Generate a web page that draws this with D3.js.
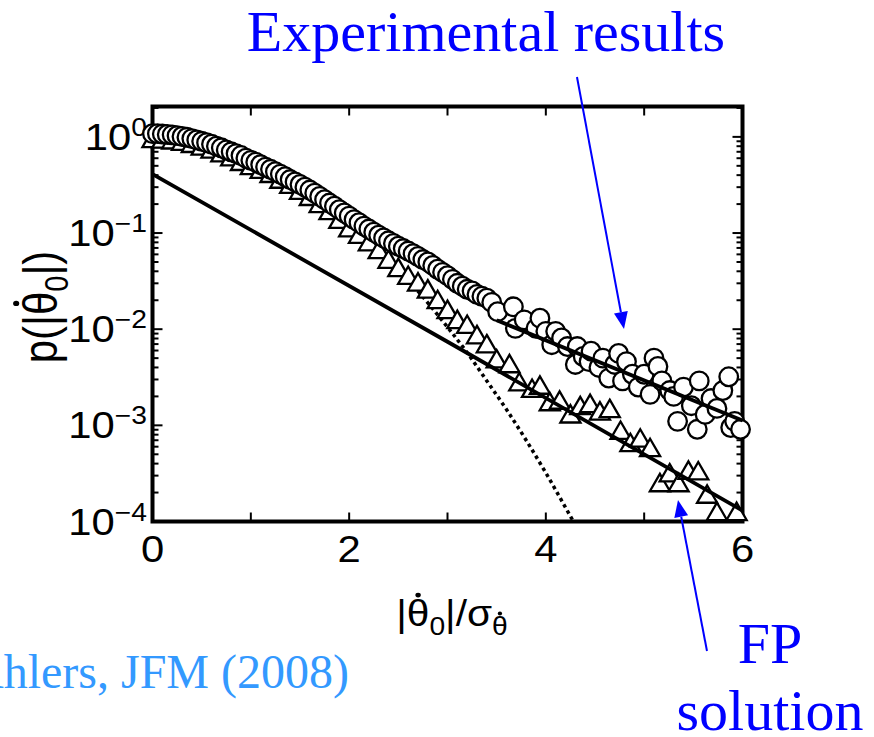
<!DOCTYPE html>
<html>
<head>
<meta charset="utf-8">
<script src="https://cdn.jsdelivr.net/npm/d3@7"></script>
<style>
  body { margin: 0; background: #fff; }
  svg { display: block; }
</style>
</head>
<body>
<svg id="chart" width="874" height="737"></svg>
<script>
// ---- measured PDF of |theta_dot_0| / sigma (open circles) ----
const circleX = [
  0.00,0.05,0.10,0.15,0.20,0.25,0.30,0.35,0.40,0.45,0.50,0.55,0.60,0.65,0.70,0.75,0.80,0.85,0.90,0.95,
  1.00,1.05,1.10,1.15,1.20,1.25,1.30,1.35,1.40,1.45,1.50,1.55,1.60,1.65,1.70,1.75,1.80,1.85,1.90,1.95,
  2.00,2.05,2.10,2.15,2.20,2.25,2.30,2.35,2.40,2.45,2.50,2.55,2.60,2.65,2.70,2.75,2.80,2.85,2.90,2.95,
  3.00,3.05,3.10,3.15,3.20,3.25,3.30,3.35,3.40,3.45,
  3.51,3.67,3.69,3.78,3.90,3.94,4.00,4.06,4.10,4.16,4.22,4.30,4.32,4.38,4.44,4.46,4.54,4.58,4.64,4.70,
  4.74,4.78,4.82,4.88,4.94,5.00,5.06,5.10,5.14,5.18,5.26,5.30,5.34,5.40,5.48,5.54,5.56,5.62,5.68,5.74,
  5.80,5.86,5.88,5.92,5.98
];
const circleY = [
  1.08,1.08,1.07,1.06,1.05,1.03,1.01,0.99,0.96,0.93,0.90,0.87,0.84,0.80,0.77,0.73,0.70,0.67,0.64,0.60,
  0.57,0.545,0.515,0.485,0.46,0.435,0.41,0.385,0.36,0.34,0.32,0.30,0.28,0.26,0.24,0.222,0.205,0.19,0.175,0.162,
  0.150,0.138,0.128,0.118,0.110,0.102,0.095,0.089,0.083,0.078,0.073,0.069,0.065,0.061,0.057,0.053,0.050,0.046,0.042,0.039,
  0.036,0.033,0.030,0.028,0.026,0.025,0.023,0.022,0.021,0.019,
  0.0152,0.0171,0.0102,0.0125,0.0102,0.0130,0.0095,0.0069,0.0095,0.0081,0.0066,0.0043,0.0066,0.0052,0.0046,0.0059,0.0040,0.0050,0.0031,0.0043,
  0.0056,0.0029,0.0046,0.0034,0.0025,0.0034,0.0021,0.0050,0.0041,0.0029,0.0023,0.0020,0.0011,0.0025,0.0016,0.00091,0.0029,0.0013,0.0019,0.0015,
  0.0023,0.0032,0.00095,0.0011,0.00091
];

// ---- PDF from the Fokker-Planck solution (open triangles) ----
const triX = [
  0.0,0.1,0.2,0.3,0.4,0.5,0.6,0.7,0.8,0.9,1.0,1.1,1.2,1.3,1.4,1.5,1.6,1.7,1.8,1.9,
  2.0,2.1,2.2,2.3,2.4,2.5,2.6,2.7,2.8,2.9,3.0,3.1,3.2,3.3,3.4,3.5,
  3.63,3.73,3.86,3.94,4.04,4.14,4.25,4.35,4.45,4.55,4.65,4.76,4.86,4.96,5.06,
  5.16,5.26,5.35,5.45,5.55,5.64,5.74,5.94
];
const triY = [
  0.90,0.89,0.87,0.84,0.80,0.75,0.70,0.64,0.58,0.52,0.47,0.43,0.39,0.34,0.30,0.26,0.225,0.19,0.16,0.13,
  0.106,0.091,0.076,0.063,0.050,0.041,0.034,0.029,0.0245,0.019,0.015,0.0118,0.0105,0.0082,0.0066,0.0046,
  0.0041,0.00265,0.00227,0.00245,0.00165,0.00171,0.00123,0.00150,0.00158,0.00132,0.00140,0.00083,0.00062,0.00069,0.00055,
  0.000237,0.00030,0.000237,0.00032,0.000315,0.00018,0.000119,0.000119
];

// ---- reference curves ----
const tailFitUpper = [[3.5, 0.0124], [6.0, 0.00112]];
const tailFitLower = [[0.0, 0.41], [3.0, 0.0074], [6.0, 0.00013]];
const gaussianCurve = [
  [0.0,0.94],[0.5,0.83],[1.0,0.57],[1.5,0.31],[2.0,0.128],[2.5,0.042],[2.8,0.0188],
  [3.0,0.0105],[3.2,0.0057],[3.4,0.0029],[3.6,0.00146],[3.8,0.0007],
  [4.0,0.00032],[4.2,0.00014],[4.28,0.0001]
];

// ---- axes ----
const xTickValues = [0, 1, 2, 3, 4, 5, 6];
const xTickLabels = ["0", "2", "4", "6"];
const xLabelValues = [0, 2, 4, 6];
const yDecadeExponents = [0, -1, -2, -3, -4];
const yExponentLabels = ["0", "\u22121", "\u22122", "\u22123", "\u22124"];

const svg = d3.select("#chart");
const plot = { left: 152.5, right: 742.5, top: 106.5, bottom: 521.5 };

const x = d3.scaleLinear().domain([0, 6]).range([plot.left, plot.right]);
const y = d3.scaleLog().domain([1e-4, 2.07]).range([plot.bottom, plot.top]);

const sansFont = "'Liberation Sans', Arial, Helvetica, sans-serif";
const serifFont = "'Liberation Serif', 'Times New Roman', serif";
const stretchX = 1.13;

// frame
svg.append("rect")
  .attr("x", plot.left).attr("y", plot.top)
  .attr("width", plot.right - plot.left).attr("height", plot.bottom - plot.top)
  .attr("fill", "none").attr("stroke", "#000").attr("stroke-width", 4);

// x ticks (bottom and top, pointing inward)
const tickG = svg.append("g").attr("stroke", "#000").attr("stroke-width", 2);
xTickValues.forEach(v => {
  tickG.append("line").attr("x1", x(v)).attr("x2", x(v))
    .attr("y1", plot.bottom).attr("y2", plot.bottom - 9);
  tickG.append("line").attr("x1", x(v)).attr("x2", x(v))
    .attr("y1", plot.top).attr("y2", plot.top + 9);
});

// y ticks (left and right), decades long, 2..9 short
const yMinor = [];
yDecadeExponents.forEach(e => {
  for (let k = 2; k <= 9; k++) {
    const v = k * Math.pow(10, e);
    if (v < y.domain()[1]) yMinor.push(v);
  }
});
yDecadeExponents.forEach(e => {
  const yy = y(Math.pow(10, e));
  tickG.append("line").attr("x1", plot.left).attr("x2", plot.left + 10).attr("y1", yy).attr("y2", yy);
  tickG.append("line").attr("x1", plot.right).attr("x2", plot.right - 10).attr("y1", yy).attr("y2", yy);
});
yMinor.forEach(v => {
  const yy = y(v);
  tickG.append("line").attr("x1", plot.left).attr("x2", plot.left + 6).attr("y1", yy).attr("y2", yy);
  tickG.append("line").attr("x1", plot.right).attr("x2", plot.right - 6).attr("y1", yy).attr("y2", yy);
});

// x tick labels
xLabelValues.forEach((v, i) => {
  svg.append("text")
    .attr("transform", `translate(${x(v)},562) scale(${stretchX},1)`)
    .attr("text-anchor", "middle")
    .attr("font-family", sansFont).attr("font-size", 37)
    .text(xTickLabels[i]);
});

// y tick labels: 10^n
yDecadeExponents.forEach((e, i) => {
  const t = svg.append("text")
    .attr("transform", `translate(147,${y(Math.pow(10, e)) + 13}) scale(${stretchX},1)`)
    .attr("text-anchor", "end")
    .attr("font-family", sansFont).attr("font-size", 37);
  t.append("tspan").text("10");
  t.append("tspan").attr("dy", -14).attr("font-size", 25).text(yExponentLabels[i]);
});

// puts an overdot on the given characters of a text element
function overdot(g, textSel, items) {
  const node = textSel.node();
  items.forEach(({ index, size, r }) => {
    const a = node.getStartPositionOfChar(index);
    const b = node.getEndPositionOfChar(index);
    g.append("circle")
      .attr("cx", (a.x + b.x) / 2)
      .attr("cy", a.y - 0.86 * size)
      .attr("r", r)
      .attr("fill", "#000");
  });
}

// axis titles
const xTitleG = svg.append("g").attr("transform", `translate(452,626) scale(${stretchX},1)`);
const xTitle = xTitleG.append("text")
  .attr("text-anchor", "middle")
  .attr("font-family", sansFont).attr("font-size", 36);
xTitle.append("tspan").text("|\u03B8");
xTitle.append("tspan").attr("dy", 9).attr("font-size", 25).text("0");
xTitle.append("tspan").attr("dy", -9).text("|/\u03C3");
xTitle.append("tspan").attr("dy", 9).attr("font-size", 25).text("\u03B8");
overdot(xTitleG, xTitle, [{ index: 1, size: 36, r: 2.4 }, { index: 6, size: 25, r: 1.9 }]);

const yTitleG = svg.append("g").attr("transform", `translate(57,307) scale(${stretchX},1) rotate(-90)`);
const yTitle = yTitleG.append("text")
  .attr("text-anchor", "middle")
  .attr("font-family", sansFont).attr("font-size", 42);
yTitle.append("tspan").text("p(|\u03B8");
yTitle.append("tspan").attr("dy", 10).attr("font-size", 29).text("0");
yTitle.append("tspan").attr("dy", -10).text("|)");
overdot(yTitleG, yTitle, [{ index: 3, size: 42, r: 2.7 }]);

// curves
const line = d3.line().x(d => x(d[0])).y(d => y(d[1])).curve(d3.curveMonotoneX);

svg.append("path").datum(gaussianCurve)
  .attr("d", line)
  .attr("fill", "none").attr("stroke", "#000").attr("stroke-width", 3.5)
  .attr("stroke-dasharray", "3.5,3.5");

// markers
const tri = d3.symbol().type(d3.symbolTriangle).size(175);
svg.append("g").selectAll("path").data(triX.map((v, i) => [v, triY[i]]))
  .join("path")
  .attr("transform", d => `translate(${x(d[0])},${y(d[1])})`)
  .attr("d", tri)
  .attr("fill", "#fff").attr("stroke", "#000").attr("stroke-width", 2.3);

svg.append("g").selectAll("circle").data(circleX.map((v, i) => [v, circleY[i]]))
  .join("circle")
  .attr("cx", d => x(d[0])).attr("cy", d => y(d[1])).attr("r", 9.3)
  .attr("fill", "#fff").attr("stroke", "#000").attr("stroke-width", 2.3);

const straight = d3.line().x(d => x(d[0])).y(d => y(d[1]));
[tailFitLower, tailFitUpper].forEach(pts => {
  svg.append("path").datum(pts)
    .attr("d", straight)
    .attr("fill", "none").attr("stroke", "#000").attr("stroke-width", 3.8);
});

// annotations
const blue = "#0000ff";
function arrow(x0, y0, x1, y1) {
  const dx = x1 - x0, dy = y1 - y0, len = Math.hypot(dx, dy);
  const ux = dx / len, uy = dy / len, head = 17, half = 7;
  const bx = x1 - ux * head, by = y1 - uy * head;
  svg.append("line").attr("x1", x0).attr("y1", y0).attr("x2", bx).attr("y2", by)
    .attr("stroke", blue).attr("stroke-width", 2);
  svg.append("polygon")
    .attr("points", [[x1, y1], [bx - uy * half, by + ux * half], [bx + uy * half, by - ux * half]].join(" "))
    .attr("fill", blue);
}
arrow(577, 77, 624, 329);
arrow(707, 651, 678, 500);

svg.append("text").attr("x", 486).attr("y", 51).attr("text-anchor", "middle")
  .attr("font-family", serifFont).attr("font-size", 58).attr("fill", blue)
  .text("Experimental results");
svg.append("text").attr("x", 770).attr("y", 663).attr("text-anchor", "middle")
  .attr("font-family", serifFont).attr("font-size", 58).attr("fill", blue)
  .text("FP");
svg.append("text").attr("x", 770).attr("y", 730).attr("text-anchor", "middle")
  .attr("font-family", serifFont).attr("font-size", 58).attr("fill", blue)
  .text("solution");
svg.append("text").attr("x", 349).attr("y", 688).attr("text-anchor", "end")
  .attr("font-family", serifFont).attr("font-size", 48).attr("fill", "#3399ff")
  .text("Brown & Ahlers, JFM (2008)");
</script>
</body>
</html>
